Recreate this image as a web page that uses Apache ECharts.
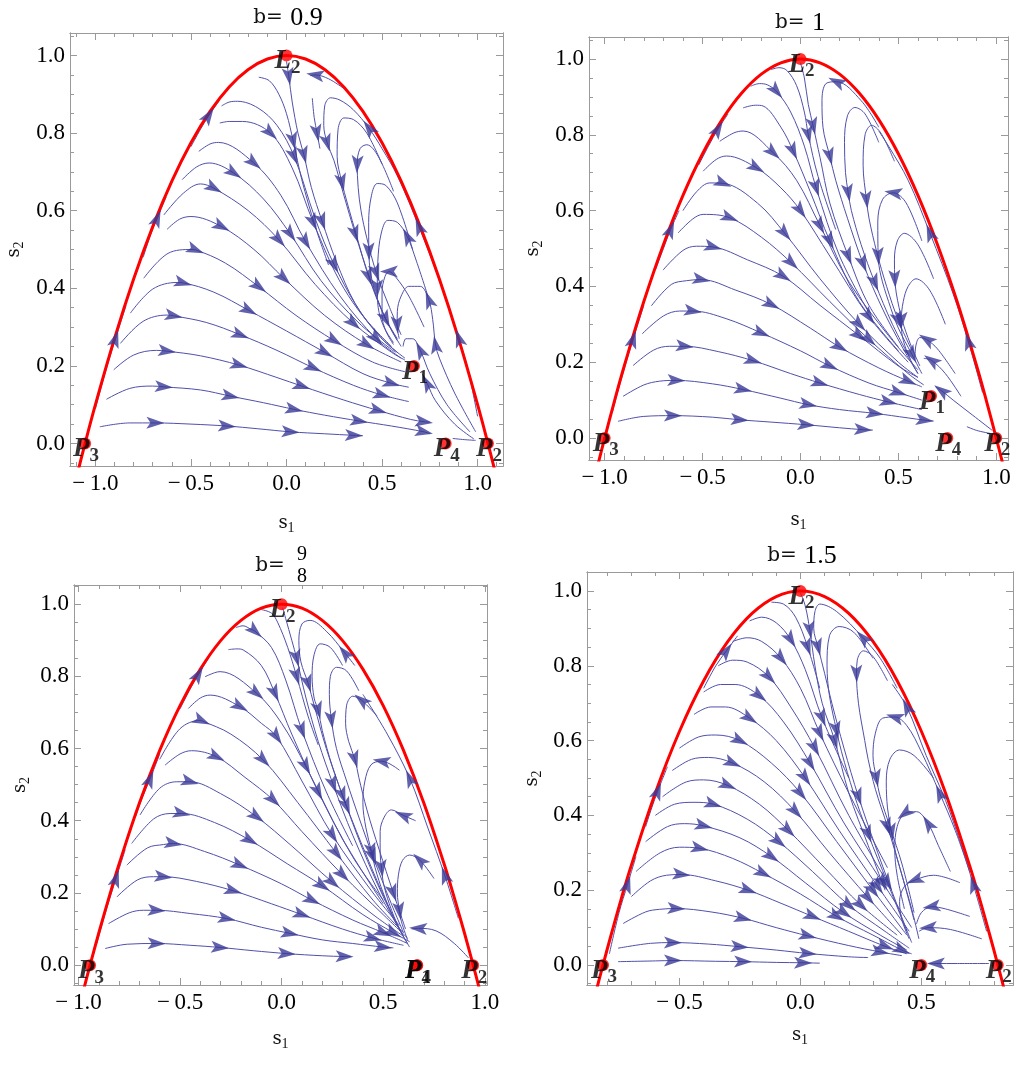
<!DOCTYPE html>
<html><head><meta charset="utf-8">
<script src="https://cdn.jsdelivr.net/npm/echarts@6/dist/echarts.min.js"></script>
<style>html,body{margin:0;padding:0;background:#fff}#c{width:1017px;height:1069px}</style>
</head><body><div id="c"></div><script>
// ---------------- DATA ----------------
const bLabels = ['0.9', '1', '9/8', '1.5'];

// tick labels
const xTicks_b09 = [-1.0, -0.5, 0.0, 0.5, 1.0];
const xTicks_b1 = [-1.0, -0.5, 0.0, 0.5, 1.0];
const xTicks_b98 = [-1.0, -0.5, 0.0, 0.5, 1.0];
const xTicks_b15 = [-0.5, 0.0, 0.5];
const yTicks = [0.0, 0.2, 0.4, 0.6, 0.8, 1.0];

// red boundary curve
const redS1_b09 = [-1.13,-1.1,-1.05,-1.0,-0.9,-0.8,-0.7,-0.6,-0.5,-0.4,-0.3,-0.2,-0.1,0,0.1,0.2,0.3,0.4,0.5,0.6,0.7,0.8,0.9,1.0,1.05,1.1,1.13];
const redS2_b09 = [-0.149,-0.089,0.008,0.1,0.271,0.424,0.559,0.676,0.775,0.856,0.919,0.964,0.991,1,0.991,0.964,0.919,0.856,0.775,0.676,0.559,0.424,0.271,0.1,0.008,-0.089,-0.149];
const redS1_b1 = [-1.08,-1.04,-1.0,-0.95,-0.9,-0.8,-0.7,-0.6,-0.5,-0.4,-0.3,-0.2,-0.1,0,0.1,0.2,0.3,0.4,0.5,0.6,0.7,0.8,0.9,0.95,1.0,1.04,1.08];
const redS2_b1 = [-0.166,-0.082,0,0.0975,0.19,0.36,0.51,0.64,0.75,0.84,0.91,0.96,0.99,1,0.99,0.96,0.91,0.84,0.75,0.64,0.51,0.36,0.19,0.0975,0,-0.082,-0.166];
const redS1_b98 = [-1.02,-0.98,-0.943,-0.9,-0.85,-0.8,-0.7,-0.6,-0.5,-0.4,-0.3,-0.2,-0.1,0,0.1,0.2,0.3,0.4,0.5,0.6,0.7,0.8,0.85,0.9,0.943,0.98,1.02];
const redS2_b98 = [-0.170,-0.080,0,0.089,0.187,0.28,0.449,0.595,0.719,0.82,0.899,0.955,0.989,1,0.989,0.955,0.899,0.82,0.719,0.595,0.449,0.28,0.187,0.089,0,-0.080,-0.170];
const redS1_b15 = [-0.88,-0.85,-0.8165,-0.78,-0.74,-0.7,-0.6,-0.5,-0.4,-0.3,-0.2,-0.1,0,0.1,0.2,0.3,0.4,0.5,0.6,0.7,0.74,0.78,0.8165,0.85,0.88];
const redS2_b15 = [-0.162,-0.084,0,0.087,0.179,0.265,0.46,0.625,0.76,0.865,0.94,0.985,1,0.985,0.94,0.865,0.76,0.625,0.46,0.265,0.179,0.087,0,-0.084,-0.162];

// fixed points: [letter, subscript, s1, s2]
const fixed_b09 = [['L','2',0,1],['P','1',0.667,0.2],['P','2',1.054,0],['P','3',-1.054,0],['P','4',0.833,0]];
const fixed_b1 = [['L','2',0,1],['P','1',0.667,0.111],['P','2',1.0,0],['P','3',-1.0,0],['P','4',0.75,0]];
const fixed_b98 = [['L','2',0,1],['P','1',0.667,0],['P','2',0.943,0],['P','3',-0.943,0],['P','4',0.667,0]];
const fixed_b15 = [['L','2',0,1],['P','2',0.816,0],['P','3',-0.816,0],['P','4',0.5,0]];

// streamlines: [s1, s2, arrowFlag]
const streams_b09 = [
[[-0.977,0.043],[-0.82,0.053],[-0.686,0.053,1],[-0.5,0.05],[-0.311,0.045,1],[-0.15,0.038],[0.021,0.030,1],[0.2,0.025],[0.353,0.021,1],[0.40,0.020]],
[[-0.942,0.114],[-0.82,0.142],[-0.70,0.148],[-0.642,0.146,1],[-0.45,0.138],[-0.293,0.122,1],[-0.12,0.105],[0.04,0.088,1],[0.2,0.073],[0.38,0.058,1],[0.55,0.045],[0.72,0.03,1],[0.75,0.025]],
[[-0.904,0.190],[-0.80,0.228],[-0.68,0.240],[-0.625,0.238,1],[-0.45,0.226],[-0.248,0.202,1],[-0.05,0.17],[0.08,0.148,1],[0.3,0.112],[0.48,0.085,1],[0.65,0.062],[0.72,0.056,1],[0.75,0.055]],
[[-0.869,0.258],[-0.75,0.315],[-0.625,0.331],[-0.59,0.329,1],[-0.42,0.312],[-0.241,0.280,1],[-0.05,0.24],[0.14,0.195,1],[0.35,0.15],[0.50,0.125,1],[0.64,0.108]],
[[-0.817,0.336],[-0.70,0.398],[-0.572,0.415],[-0.541,0.414,1],[-0.38,0.39],[-0.197,0.343,1],[0.0,0.29],[0.2,0.235,1],[0.4,0.18],[0.55,0.155,1],[0.64,0.145]],
[[-0.747,0.426],[-0.62,0.49],[-0.494,0.500],[-0.476,0.499,1],[-0.32,0.465],[-0.145,0.404,1],[0.05,0.33],[0.25,0.265,1],[0.45,0.21],[0.62,0.185]],
[[-0.625,0.552],[-0.56,0.578],[-0.50,0.585],[-0.340,0.559,1],[-0.17,0.50],[-0.014,0.426,1],[0.2,0.33],[0.42,0.255,1],[0.60,0.21]],
[[-0.642,0.589],[-0.54,0.645],[-0.45,0.669],[-0.380,0.658,1],[-0.2,0.6],[-0.04,0.525,1],[0.15,0.41],[0.35,0.31,1],[0.55,0.235],[0.62,0.215]],
[[-0.546,0.680],[-0.47,0.713],[-0.405,0.723],[-0.276,0.697,1],[-0.12,0.63],[0.02,0.54,1],[0.18,0.42],[0.38,0.31],[0.57,0.235]],
[[-0.459,0.753],[-0.40,0.772],[-0.356,0.776],[-0.171,0.723,1],[-0.03,0.64],[0.1,0.52,1],[0.28,0.38],[0.47,0.27,1],[0.6,0.22]],
[[-0.349,0.826],[-0.30,0.83],[-0.23,0.83],[-0.084,0.80,1],[0.03,0.71],[0.14,0.57,1],[0.3,0.40],[0.5,0.27],[0.62,0.22]],
[[-0.34,0.87],[-0.30,0.88],[-0.257,0.882],[-0.15,0.865],[-0.05,0.82],[0.04,0.74,1],[0.15,0.58],[0.25,0.46,1],[0.4,0.33],[0.55,0.25]],
[[-0.145,0.944],[-0.09,0.935],[-0.04,0.90],[0.0,0.85],[0.035,0.78,1],[0.08,0.68],[0.15,0.56],[0.22,0.46]],
[[0.0,0.985],[0.012,0.946,1],[0.03,0.88],[0.06,0.80],[0.091,0.744,1],[0.13,0.66],[0.187,0.572,1],[0.26,0.47],[0.36,0.36],[0.48,0.28],[0.58,0.235]],
[[0.30,0.915],[0.22,0.94],[0.15,0.95,1],[0.125,0.948]],
[[0.135,0.89],[0.145,0.84],[0.16,0.80,1],[0.175,0.76]],
[[1.0,0.07],[0.95,0.19],[0.902,0.271,1],[0.80,0.42],[0.693,0.559,1],[0.58,0.69],[0.50,0.76],[0.431,0.813,1],[0.35,0.86],[0.28,0.885],[0.23,0.891],[0.20,0.87],[0.195,0.82],[0.213,0.775,1],[0.248,0.73],[0.30,0.64],[0.36,0.54,1],[0.44,0.42],[0.52,0.32],[0.6,0.25]],
[[0.50,0.72],[0.42,0.80],[0.35,0.835],[0.30,0.839],[0.27,0.81],[0.265,0.74],[0.29,0.673,1],[0.318,0.62],[0.37,0.53],[0.43,0.43,1],[0.51,0.33],[0.58,0.27]],
[[0.56,0.65],[0.48,0.74],[0.42,0.77],[0.385,0.76],[0.37,0.72,1],[0.375,0.66],[0.39,0.60],[0.42,0.53],[0.47,0.44,1],[0.54,0.35],[0.6,0.28]],
[[0.66,0.50],[0.58,0.62],[0.52,0.665],[0.475,0.67],[0.445,0.64],[0.43,0.57],[0.431,0.495,1],[0.44,0.44],[0.47,0.38],[0.52,0.32,1],[0.58,0.265]],
[[0.74,0.38],[0.68,0.47],[0.632,0.533,1],[0.58,0.57],[0.53,0.575],[0.495,0.54],[0.478,0.47],[0.475,0.40,1],[0.48,0.35],[0.51,0.30],[0.56,0.26]],
[[0.72,0.30],[0.64,0.38],[0.57,0.43],[0.536,0.443,1],[0.515,0.43],[0.50,0.39],[0.50,0.33],[0.52,0.29],[0.56,0.255]],
[[0.99,0.03],[0.88,0.13],[0.80,0.22],[0.78,0.254,1],[0.765,0.32],[0.745,0.37,1],[0.70,0.405],[0.64,0.405],[0.60,0.38],[0.58,0.34],[0.579,0.306,1],[0.59,0.27]],
[[0.96,0.03],[0.84,0.10],[0.75,0.18],[0.70,0.24,1],[0.66,0.27],[0.625,0.27],[0.61,0.25]],
[[0.98,0.012],[0.88,0.05],[0.78,0.11],[0.736,0.155,1],[0.71,0.18]],
[[0.99,0.008],[0.93,0.01],[0.87,0.013]],
[[-1.0,0.09],[-0.95,0.18],[-0.895,0.27,1],[-0.84,0.355]],
[[-0.75,0.48],[-0.71,0.54],[-0.677,0.58,1],[-0.63,0.635]],
[[-0.5,0.765],[-0.45,0.81],[-0.407,0.845,1],[-0.35,0.885]]
];

const streams_b1 = [
[[-0.932,0.044],[-0.80,0.057],[-0.651,0.059,1],[-0.45,0.055],[-0.31,0.048,1],[-0.15,0.042],[0.03,0.035,1],[0.2,0.027],[0.32,0.022,1],[0.37,0.021]],
[[-0.906,0.110],[-0.80,0.14],[-0.719,0.150],[-0.634,0.152,1],[-0.45,0.143],[-0.293,0.128,1],[-0.1,0.105],[0.04,0.088,1],[0.2,0.075],[0.38,0.065,1],[0.55,0.053],[0.635,0.047,1],[0.68,0.045]],
[[-0.855,0.191],[-0.75,0.232],[-0.668,0.242],[-0.591,0.242,1],[-0.42,0.228],[-0.242,0.204,1],[-0.05,0.17],[0.1,0.145,1],[0.3,0.115],[0.45,0.095,1],[0.62,0.075]],
[[-0.808,0.275],[-0.70,0.322],[-0.617,0.335],[-0.549,0.335,1],[-0.38,0.315],[-0.199,0.277,1],[0.0,0.23],[0.15,0.19,1],[0.35,0.145],[0.5,0.12,1],[0.62,0.10]],
[[-0.761,0.349],[-0.66,0.405],[-0.583,0.415],[-0.506,0.418,1],[-0.33,0.39],[-0.148,0.352,1],[0.05,0.29],[0.2,0.24,1],[0.4,0.185],[0.55,0.15,1],[0.62,0.135]],
[[-0.702,0.443],[-0.60,0.495],[-0.532,0.506],[-0.446,0.504,1],[-0.27,0.47],[-0.089,0.427,1],[0.1,0.35],[0.3,0.27,1],[0.5,0.19],[0.60,0.16]],
[[-0.625,0.541],[-0.55,0.578],[-0.497,0.590],[-0.361,0.581,1],[-0.2,0.53],[-0.046,0.462,1],[0.15,0.36],[0.35,0.26,1],[0.55,0.17],[0.63,0.14]],
[[-0.600,0.600],[-0.53,0.65],[-0.463,0.673],[-0.395,0.672,1],[-0.22,0.62],[-0.08,0.54,1],[0.1,0.42],[0.3,0.30,1],[0.5,0.2],[0.6,0.16]],
[[-0.497,0.704],[-0.43,0.735],[-0.378,0.744],[-0.225,0.713,1],[-0.1,0.66],[0.0,0.60,1],[0.15,0.48],[0.35,0.32,1],[0.55,0.2]],
[[-0.412,0.783],[-0.34,0.805],[-0.293,0.81],[-0.14,0.753,1],[-0.02,0.68],[0.1,0.56,1],[0.25,0.41],[0.45,0.27],[0.6,0.18]],
[[-0.293,0.871],[-0.23,0.878],[-0.191,0.876],[-0.1,0.82],[-0.037,0.757,1],[0.05,0.65],[0.15,0.52,1],[0.3,0.36],[0.5,0.23]],
[[-0.255,0.928],[-0.21,0.935],[-0.17,0.932],[-0.123,0.915,1],[-0.05,0.86],[0.02,0.77],[0.08,0.66,1],[0.2,0.48],[0.35,0.33]],
[[-0.15,0.972],[-0.11,0.977],[-0.07,0.97],[-0.02,0.93],[0.02,0.86],[0.04,0.80,1],[0.09,0.69],[0.18,0.55]],
[[0.0,0.99],[0.02,0.95],[0.04,0.88],[0.065,0.823,1],[0.1,0.74],[0.15,0.62],[0.244,0.48,1],[0.35,0.35],[0.5,0.24]],
[[0.40,0.82],[0.31,0.89],[0.184,0.94,1],[0.13,0.935],[0.11,0.89],[0.115,0.82],[0.15,0.743,1],[0.18,0.68],[0.24,0.58],[0.32,0.46,1],[0.42,0.34],[0.52,0.24],[0.6,0.17]],
[[0.40,0.78],[0.33,0.855],[0.278,0.872],[0.24,0.85],[0.225,0.78],[0.23,0.70],[0.244,0.647,1],[0.26,0.60],[0.31,0.51],[0.38,0.41,1],[0.47,0.30],[0.56,0.21]],
[[0.48,0.73],[0.41,0.805],[0.363,0.825],[0.33,0.80],[0.32,0.72],[0.337,0.629,1],[0.35,0.58],[0.39,0.49],[0.44,0.40],[0.5,0.31,1],[0.57,0.23]],
[[0.62,0.52],[0.54,0.62],[0.474,0.647,1],[0.42,0.63],[0.395,0.57],[0.397,0.48,1],[0.41,0.43],[0.45,0.36],[0.5,0.29],[0.57,0.22,1],[0.62,0.17]],
[[0.68,0.42],[0.60,0.51],[0.53,0.54],[0.495,0.52],[0.48,0.47],[0.482,0.42,1],[0.49,0.38],[0.52,0.31],[0.56,0.25],[0.61,0.19]],
[[0.74,0.30],[0.66,0.39],[0.59,0.42],[0.55,0.40],[0.525,0.36],[0.515,0.31,1],[0.52,0.27],[0.55,0.22],[0.6,0.17]],
[[0.79,0.17],[0.70,0.235],[0.644,0.26,1],[0.61,0.265],[0.59,0.245],[0.585,0.21]],
[[0.82,0.11],[0.74,0.17],[0.669,0.205,1],[0.63,0.21]],
[[0.98,0.02],[0.88,0.06],[0.78,0.10],[0.72,0.125,1],[0.69,0.135]],
[[0.97,0.012],[0.90,0.02],[0.85,0.03]],
[[-0.96,0.07],[-0.91,0.165],[-0.855,0.26,1],[-0.8,0.35]],
[[-0.74,0.445],[-0.70,0.50],[-0.663,0.55,1],[-0.62,0.6]],
[[-0.52,0.72],[-0.47,0.77],[-0.421,0.815,1],[-0.37,0.855]],
[[0.93,0.12],[0.857,0.255,1],[0.78,0.38],[0.661,0.541,1],[0.55,0.68],[0.45,0.77],[0.40,0.81]]
];

const streams_b98 = [
[[-0.869,0.046],[-0.76,0.058],[-0.615,0.06,1],[-0.45,0.055],[-0.303,0.049,1],[-0.14,0.04],[0.025,0.032,1],[0.2,0.026],[0.31,0.024,1],[0.34,0.024]],
[[-0.852,0.115],[-0.75,0.145],[-0.68,0.152],[-0.615,0.152,1],[-0.45,0.143],[-0.270,0.129,1],[-0.1,0.105],[0.041,0.088,1],[0.2,0.07],[0.35,0.06],[0.5,0.05,1],[0.55,0.048]],
[[-0.811,0.189],[-0.71,0.236],[-0.631,0.245],[-0.582,0.245,1],[-0.42,0.232],[-0.238,0.206,1],[-0.05,0.17],[0.1,0.14,1],[0.3,0.1],[0.45,0.075,1],[0.6,0.055]],
[[-0.762,0.277],[-0.66,0.325],[-0.582,0.334],[-0.533,0.337,1],[-0.38,0.315],[-0.205,0.277,1],[0.0,0.225],[0.15,0.18,1],[0.35,0.125],[0.5,0.09,1],[0.62,0.06]],
[[-0.738,0.337],[-0.63,0.405],[-0.549,0.42],[-0.492,0.42,1],[-0.33,0.395],[-0.156,0.346,1],[0.03,0.28],[0.2,0.22,1],[0.4,0.14],[0.55,0.09,1],[0.63,0.065]],
[[-0.697,0.416],[-0.60,0.49],[-0.516,0.508],[-0.451,0.508,1],[-0.3,0.475],[-0.123,0.411,1],[0.05,0.33],[0.25,0.23,1],[0.45,0.14],[0.6,0.08]],
[[-0.574,0.554],[-0.50,0.585],[-0.443,0.594],[-0.320,0.577,1],[-0.18,0.52],[-0.041,0.457,1],[0.1,0.37],[0.3,0.25,1],[0.5,0.14],[0.62,0.075]],
[[-0.60,0.57],[-0.50,0.655],[-0.402,0.678],[-0.393,0.677,1],[-0.25,0.64],[-0.09,0.568,1],[0.08,0.45],[0.27,0.31,1],[0.45,0.18],[0.6,0.09]],
[[-0.459,0.711],[-0.40,0.74],[-0.352,0.748],[-0.205,0.716,1],[-0.1,0.67],[-0.025,0.633,1],[0.1,0.51],[0.25,0.36,1],[0.45,0.2],[0.58,0.11]],
[[-0.377,0.799],[-0.33,0.81],[-0.303,0.813],[-0.123,0.753,1],[0.0,0.67],[0.12,0.55,1],[0.3,0.35],[0.5,0.17]],
[[-0.262,0.874],[-0.22,0.876],[-0.189,0.873],[-0.1,0.83],[-0.033,0.753,1],[0.05,0.64],[0.18,0.48,1],[0.35,0.3],[0.5,0.18]],
[[-0.225,0.935],[-0.19,0.94],[-0.15,0.93],[-0.131,0.925,1],[-0.05,0.88],[0.02,0.79],[0.1,0.65,1],[0.22,0.48],[0.35,0.33]],
[[-0.10,0.985],[-0.05,0.975],[-0.02,0.95],[0.03,0.88],[0.074,0.80,1],[0.13,0.69],[0.18,0.61]],
[[0.005,0.99],[0.02,0.96],[0.05,0.90],[0.074,0.85,1],[0.12,0.74],[0.18,0.62],[0.254,0.50,1],[0.35,0.36],[0.48,0.2],[0.58,0.1]],
[[0.36,0.83],[0.311,0.865,1],[0.22,0.925],[0.14,0.955],[0.10,0.945],[0.085,0.90],[0.095,0.84],[0.131,0.78,1],[0.16,0.72],[0.22,0.60],[0.3,0.47,1],[0.4,0.32],[0.5,0.19],[0.58,0.1]],
[[0.30,0.83],[0.24,0.88],[0.19,0.89],[0.16,0.86],[0.15,0.80],[0.16,0.74],[0.18,0.706,1],[0.2,0.65],[0.25,0.55],[0.32,0.44,1],[0.42,0.3],[0.52,0.17],[0.6,0.08]],
[[0.38,0.76],[0.32,0.815],[0.27,0.825],[0.24,0.80],[0.235,0.75],[0.245,0.68,1],[0.27,0.60],[0.32,0.51],[0.38,0.41],[0.45,0.3,1],[0.54,0.17],[0.6,0.09]],
[[0.47,0.69],[0.393,0.734,1],[0.35,0.745],[0.32,0.72],[0.315,0.67],[0.33,0.62],[0.361,0.57,1],[0.38,0.52],[0.42,0.43],[0.48,0.32],[0.55,0.2,1],[0.61,0.1]],
[[0.58,0.54],[0.492,0.565,1],[0.44,0.555],[0.41,0.51],[0.40,0.45],[0.415,0.38],[0.443,0.314,1],[0.46,0.27],[0.5,0.2],[0.56,0.12],[0.62,0.06]],
[[0.66,0.40],[0.598,0.415,1],[0.54,0.43],[0.505,0.41],[0.485,0.37],[0.485,0.31],[0.492,0.268,1],[0.50,0.23],[0.53,0.17],[0.58,0.1],[0.63,0.05]],
[[0.75,0.24],[0.68,0.291,1],[0.63,0.305],[0.595,0.29],[0.575,0.25],[0.57,0.20],[0.58,0.15,1],[0.59,0.12],[0.62,0.07]],
[[0.92,0.02],[0.85,0.06],[0.76,0.095],[0.672,0.102,1],[0.64,0.10]],
[[-0.91,0.06],[-0.865,0.15],[-0.815,0.24,1],[-0.77,0.32]],
[[-0.72,0.41],[-0.685,0.465],[-0.648,0.515,1],[-0.60,0.585]],
[[-0.50,0.71],[-0.455,0.76],[-0.41,0.805,1],[-0.36,0.85]],
[[0.87,0.13],[0.803,0.249,1],[0.72,0.38],[0.631,0.517,1],[0.52,0.64],[0.40,0.75]]
];

const streams_b15 = [
[[-0.754,0.009],[-0.6,0.011],[-0.527,0.012,1],[-0.35,0.01],[-0.237,0.009,1],[-0.1,0.007],[0.011,0.006,1],[0.08,0.005]],
[[-0.754,0.045],[-0.62,0.058],[-0.527,0.06,1],[-0.38,0.056],[-0.251,0.049,1],[-0.1,0.04],[0.03,0.031,1],[0.2,0.022],[0.28,0.02]],
[[-0.733,0.111],[-0.64,0.142],[-0.582,0.149],[-0.513,0.151,1],[-0.37,0.142],[-0.237,0.125,1],[-0.1,0.1],[0.03,0.078,1],[0.2,0.052],[0.33,0.035,1],[0.42,0.025]],
[[-0.699,0.183],[-0.62,0.225],[-0.554,0.240],[-0.492,0.242,1],[-0.35,0.225],[-0.216,0.2,1],[-0.08,0.165],[0.05,0.13,1],[0.2,0.09],[0.35,0.05,1],[0.44,0.03]],
[[-0.68,0.25],[-0.58,0.30],[-0.50,0.315],[-0.416,0.312,1],[-0.28,0.285],[-0.154,0.245,1],[0.0,0.19],[0.15,0.13,1],[0.3,0.08],[0.42,0.04,1],[0.46,0.03]],
[[-0.64,0.33],[-0.55,0.37],[-0.48,0.378],[-0.40,0.372,1],[-0.25,0.34],[-0.12,0.29,1],[0.02,0.22],[0.18,0.14,1],[0.33,0.08],[0.44,0.04]],
[[-0.60,0.40],[-0.52,0.43],[-0.44,0.435],[-0.36,0.43,1],[-0.22,0.39],[-0.09,0.33,1],[0.05,0.25],[0.2,0.16,1],[0.35,0.09],[0.45,0.045]],
[[-0.57,0.45],[-0.47,0.49],[-0.40,0.495],[-0.30,0.48,1],[-0.17,0.43],[-0.05,0.36,1],[0.1,0.26],[0.25,0.16,1],[0.4,0.08]],
[[-0.53,0.52],[-0.45,0.55],[-0.38,0.555],[-0.28,0.54,1],[-0.15,0.49],[-0.02,0.41,1],[0.12,0.3],[0.28,0.18,1],[0.42,0.08]],
[[-0.50,0.58],[-0.42,0.61],[-0.35,0.615],[-0.25,0.60,1],[-0.12,0.54],[0.0,0.46,1],[0.15,0.33],[0.3,0.2,1],[0.44,0.08]],
[[-0.44,0.67],[-0.37,0.69],[-0.31,0.69],[-0.21,0.66,1],[-0.1,0.6],[0.02,0.5,1],[0.16,0.36],[0.32,0.21,1],[0.45,0.09]],
[[-0.40,0.73],[-0.33,0.75],[-0.27,0.75],[-0.17,0.72,1],[-0.07,0.65],[0.04,0.54,1],[0.18,0.38],[0.34,0.22,1],[0.46,0.1]],
[[-0.34,0.80],[-0.28,0.815],[-0.22,0.81],[-0.13,0.77,1],[-0.04,0.69],[0.06,0.58,1],[0.2,0.4],[0.36,0.22,1]],
[[-0.28,0.865],[-0.22,0.875],[-0.16,0.865],[-0.08,0.82,1],[0.0,0.74],[0.08,0.62,1],[0.2,0.46],[0.36,0.26]],
[[-0.21,0.92],[-0.16,0.93],[-0.10,0.915],[-0.04,0.87,1],[0.02,0.79],[0.09,0.66,1],[0.2,0.5]],
[[-0.12,0.97],[-0.07,0.965],[-0.02,0.93],[0.03,0.85,1],[0.08,0.74]],
[[0.0,0.995],[0.02,0.96],[0.039,0.895,1],[0.06,0.8],[0.09,0.7],[0.142,0.6,1],[0.2,0.46],[0.28,0.32],[0.35,0.2]],
[[0.40,0.74],[0.33,0.82],[0.259,0.875,1],[0.15,0.945],[0.08,0.965],[0.06,0.945],[0.055,0.90],[0.073,0.85,1],[0.1,0.78],[0.13,0.70],[0.18,0.58],[0.24,0.45,1],[0.32,0.30],[0.4,0.16],[0.46,0.06]],
[[0.30,0.82],[0.22,0.89],[0.16,0.905],[0.12,0.88],[0.11,0.80],[0.12,0.72],[0.149,0.628,1],[0.17,0.57],[0.22,0.46],[0.28,0.35,1],[0.36,0.22],[0.44,0.09]],
[[0.36,0.76],[0.30,0.825],[0.26,0.84],[0.235,0.815],[0.232,0.779,1],[0.24,0.70],[0.266,0.60],[0.28,0.55],[0.31,0.47],[0.36,0.37,1],[0.42,0.24],[0.47,0.12]],
[[0.70,0.25],[0.64,0.36],[0.576,0.459,1],[0.50,0.57],[0.44,0.64],[0.39,0.663,1],[0.34,0.66],[0.31,0.62],[0.30,0.56],[0.314,0.50,1],[0.33,0.45],[0.37,0.37],[0.42,0.27],[0.47,0.14]],
[[0.55,0.50],[0.47,0.56],[0.41,0.575],[0.37,0.55],[0.355,0.49],[0.36,0.42],[0.376,0.356,1],[0.39,0.31],[0.42,0.24],[0.46,0.15],[0.49,0.07]],
[[0.62,0.25],[0.57,0.32],[0.528,0.378,1],[0.48,0.41],[0.431,0.405,1],[0.40,0.37],[0.39,0.31],[0.40,0.24],[0.43,0.15]],
[[0.66,0.22],[0.55,0.24],[0.473,0.227,1],[0.43,0.21],[0.41,0.17],[0.42,0.12],[0.45,0.07]],
[[0.70,0.13],[0.6,0.15],[0.542,0.156,1],[0.50,0.14],[0.48,0.11]],
[[0.75,0.07],[0.62,0.095],[0.528,0.10,1],[0.49,0.09]],
[[0.78,0.004],[0.65,0.004],[0.56,0.004,1],[0.53,0.004]],
[[0.77,0.09],[0.715,0.215,1],[0.66,0.33],[0.60,0.44],[0.52,0.56],[0.44,0.69,1],[0.38,0.75]],
[[-0.79,0.03],[-0.75,0.14],[-0.715,0.215,1],[-0.68,0.29]],
[[-0.64,0.37],[-0.615,0.42],[-0.59,0.465,1],[-0.55,0.53]],
[[-0.40,0.74],[-0.35,0.80],[-0.306,0.84,1],[-0.26,0.88]]
];

// ---------------- LAYOUT ----------------
const FRAME = '#9a9a9a';
const LINE = '#5050ac';
const ARROW = '#393997';
const SERIF = '"Liberation Serif", "Times New Roman", serif';
const SLAB = '"DejaVu Serif", serif';
const panels = [
  {grid:{left:70,top:33,width:433,height:433}, xr:[-1.133,1.133], yr:[-0.058,1.058], xTicks:xTicks_b09, streams:streams_b09, rs1:redS1_b09, rs2:redS2_b09, fixed:fixed_b09, xGap:46, yGap:44},
  {grid:{left:589,top:37,width:419,height:423}, xr:[-1.08,1.06], yr:[-0.058,1.058], xTicks:xTicks_b1, streams:streams_b1, rs1:redS1_b1, rs2:redS2_b1, fixed:fixed_b1, xGap:49, yGap:44},
  {grid:{left:74,top:585,width:413,height:400}, xr:[-1.022,1.011], yr:[-0.055,1.053], xTicks:xTicks_b98, streams:streams_b98, rs1:redS1_b98, rs2:redS2_b98, fixed:fixed_b98, xGap:43, yGap:42},
  {grid:{left:587,top:572,width:426,height:413}, xr:[-0.8825,0.879], yr:[-0.0534,1.0508], xTicks:xTicks_b15, streams:streams_b15, rs1:redS1_b15, rs2:redS2_b15, fixed:fixed_b15, xGap:39, yGap:43}
];

function fmt(v){ const a = Math.abs(v).toFixed(1); return (v < -1e-9 ? '\u2212\u2009' : '') + a; }
function minorVals(r, step){ const out=[]; for(let v=Math.ceil(r[0]/step-1e-9)*step; v<=r[1]+1e-9; v+=step) out.push(+v.toFixed(4)); return out; }

const nameRich = {
  s:{fontFamily:SLAB, fontSize:18, color:'#111'},
  t:{fontFamily:SERIF, fontSize:14, color:'#111', padding:[9,0,0,0]}
};

const xAxis=[], yAxis=[], grid=[], series=[];
panels.forEach((p,i)=>{
  grid.push(Object.assign({outerBoundsMode:'none', containLabel:false, show:false}, p.grid));
  const baseX = {type:'value', gridIndex:i, min:p.xr[0], max:p.xr[1], splitLine:{show:false}, axisPointer:{show:false},
    axisLine:{show:true, onZero:false, lineStyle:{color:FRAME, width:1}}};
  const baseY = {type:'value', gridIndex:i, min:p.yr[0], max:p.yr[1], splitLine:{show:false}, axisPointer:{show:false},
    axisLine:{show:true, onZero:false, lineStyle:{color:FRAME, width:1}}};
  const xMin = minorVals(p.xr, 0.1), yMin = minorVals(p.yr, 0.05);
  const tick = (vals, len) => ({show:true, inside:true, length:len, lineStyle:{color:FRAME, width:1}, customValues:vals});
  xAxis.push(Object.assign({}, baseX, {position:'bottom', axisTick:tick(p.xTicks,7),
    axisLabel:{show:true, customValues:p.xTicks, formatter:fmt, margin:6, color:'#000', fontFamily:SERIF, fontSize:23},
    name:'{s|s}{t|1}', nameLocation:'middle', nameGap:p.xGap, nameTextStyle:{rich:nameRich}}));
  xAxis.push(Object.assign({}, baseX, {position:'bottom', axisTick:tick(xMin,4), axisLabel:{show:false}}));
  xAxis.push(Object.assign({}, baseX, {position:'top', axisTick:tick(p.xTicks,7), axisLabel:{show:false}}));
  xAxis.push(Object.assign({}, baseX, {position:'top', axisTick:tick(xMin,4), axisLabel:{show:false}}));
  yAxis.push(Object.assign({}, baseY, {position:'left', axisTick:tick(yTicks,7),
    axisLabel:{show:true, customValues:yTicks, formatter:fmt, margin:5, color:'#000', fontFamily:SERIF, fontSize:23},
    name:'{s|s}{t|2}', nameLocation:'middle', nameGap:p.yGap, nameRotate:90, nameTextStyle:{rich:nameRich}}));
  yAxis.push(Object.assign({}, baseY, {position:'left', axisTick:tick(yMin,4), axisLabel:{show:false}}));
  yAxis.push(Object.assign({}, baseY, {position:'right', axisTick:tick(yTicks,7), axisLabel:{show:false}}));
  yAxis.push(Object.assign({}, baseY, {position:'right', axisTick:tick(yMin,4), axisLabel:{show:false}}));

  const xi = 4*i, yi = 4*i;
  const sx = p.grid.width/(p.xr[1]-p.xr[0]), sy = p.grid.height/(p.yr[1]-p.yr[0]);
  const arrows = [];
  p.streams.forEach(s=>{
    series.push({type:'line', xAxisIndex:xi, yAxisIndex:yi, data:s.map(q=>[q[0],q[1]]), smooth:0.35,
      symbol:'none', showSymbol:false, lineStyle:{color:LINE, width:1}, silent:true, z:2, animation:false});
    s.forEach((q,k)=>{
      if(q[2]){
        const a = s[Math.max(0,k-1)], b = s[Math.min(s.length-1,k+1)];
        const ang = Math.atan2((b[1]-a[1])*sy, (b[0]-a[0])*sx)*180/Math.PI;
        arrows.push({value:[q[0],q[1]], symbolRotate:ang});
      }
    });
  });
  series.push({type:'scatter', xAxisIndex:xi, yAxisIndex:yi, data:arrows, symbol:'path://M0,0 L18,6 L0,12 L4,6 Z',
    symbolSize:[18,12], itemStyle:{color:ARROW}, silent:true, z:4, animation:false});
  series.push({type:'line', xAxisIndex:xi, yAxisIndex:yi, data:p.rs1.map((v,k)=>[v,p.rs2[k]]), smooth:0.4,
    symbol:'none', showSymbol:false, lineStyle:{color:'#ff0000', width:3}, silent:true, z:3, animation:false});
  series.push({type:'scatter', xAxisIndex:xi, yAxisIndex:yi, z:6, animation:false, silent:true,
    symbolSize:12, itemStyle:{color:'#ff0000'},
    data:p.fixed.map(f=>({value:[f[2],f[3]], l:f[0], sub:f[1]})),
    label:{show:true, position:'inside', offset:[1,6], formatter:(pr)=>'{m|'+pr.data.l+'}{s|'+pr.data.sub+'}',
      rich:{
        m:{fontFamily:SERIF, fontSize:27, fontWeight:'bold', fontStyle:'italic', color:'#000', lineHeight:26},
        s:{fontFamily:SERIF, fontSize:19, fontWeight:'bold', color:'#000', lineHeight:26, padding:[13,0,0,0]}
      }}
  });
});

const tRich = {a:{fontFamily:SLAB, fontSize:20, fill:'#111'}, n:{fontFamily:SERIF, fontSize:26, fill:'#000', padding:[0,0,0,4]}};
const graphic = [
  {type:'text', x:288, y:18, style:{text:'{a|b=} {n|'+bLabels[0]+'}', rich:tRich, align:'center', verticalAlign:'middle'}},
  {type:'text', x:800, y:23, style:{text:'{a|b=} {n|'+bLabels[1]+'}', rich:tRich, align:'center', verticalAlign:'middle'}},
  {type:'text', x:270, y:566, style:{text:'{a|b=}', rich:tRich, align:'center', verticalAlign:'middle'}},
  {type:'text', x:302, y:555, style:{text:bLabels[2].split('/')[0], fontFamily:SERIF, fontSize:20, fill:'#000', align:'center', verticalAlign:'middle'}},
  {type:'text', x:302, y:577, style:{text:bLabels[2].split('/')[1], fontFamily:SERIF, fontSize:20, fill:'#000', align:'center', verticalAlign:'middle'}},
  {type:'text', x:802, y:556, style:{text:'{a|b=} {n|'+bLabels[3]+'}', rich:tRich, align:'center', verticalAlign:'middle'}}
];

const chart = echarts.init(document.getElementById('c'), null, {renderer:'canvas'});
chart.setOption({animation:false, backgroundColor:'#fff', grid, xAxis, yAxis, series, graphic});
</script></body></html>
